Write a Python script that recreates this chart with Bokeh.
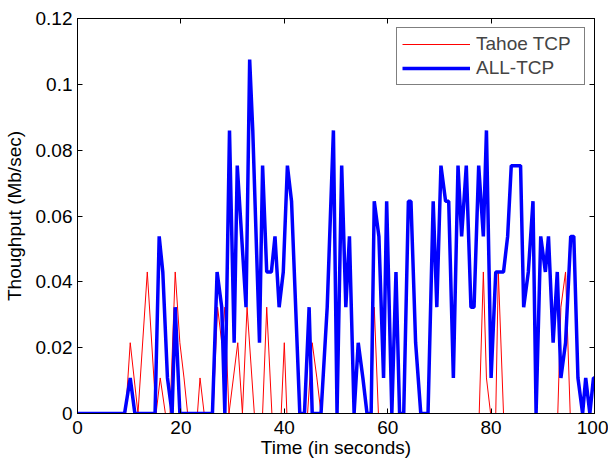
from bokeh.plotting import figure
from bokeh.models import Range1d, LinearAxis, FixedTicker, Legend, LegendItem
from bokeh.embed import file_html
from bokeh.resources import INLINE

# ---- data ----
tahoe_t = [0, 9.3, 10.2, 11.7, 13.5, 15.2, 16.0, 17.0, 17.9, 18.9, 19.8, 20.6, 21.3,
           23.2, 23.7, 24.5, 26.2, 27.1, 27.9, 28.5, 29.3, 31.0, 31.9, 32.8, 34.2,
           35.8, 36.6, 37.6, 39.4, 40.0, 40.5, 44.5, 45.4, 46.3, 47.1, 56.8, 57.4,
           58.2, 77.7, 78.5, 79.1, 79.9, 80.9, 81.4, 82.4, 92.9, 93.5, 94.4, 95.3, 100]
tahoe_v = [0, 0, 0.0215, 0, 0.043, 0, 0.0108, 0, 0, 0.043, 0.0215, 0.0108, 0,
           0, 0.0108, 0, 0, 0.0323, 0.0215, 0.0323, 0, 0.0215, 0, 0.0323, 0,
           0, 0.0323, 0, 0, 0.0215, 0, 0, 0.0215, 0.0108, 0, 0, 0.0323,
           0, 0, 0.043, 0.0108, 0, 0, 0.043, 0, 0, 0.0323, 0.043, 0, 0]

all_t = [0, 9.1, 10.2, 11.1, 15.0, 15.8, 16.5, 17.4, 18.3, 18.9, 19.8, 26.1, 27.0,
         27.9, 28.5, 29.4, 30.3, 30.9, 32.6, 33.3, 33.9, 35.2, 35.8, 36.6, 37.5,
         38.2, 39.0, 39.8, 40.6, 41.4, 43.0, 43.9, 44.8, 45.4, 47.1, 48.3, 49.5,
         50.2, 51.1, 51.9, 52.6, 53.5, 54.3, 55.2, 56.0, 56.8, 57.4, 58.3, 59.2,
         59.8, 60.8, 61.6, 62.3, 63.1, 64.0, 64.5, 65.4, 66.4, 67.8, 68.8, 69.5,
         70.3, 71.2, 71.8, 72.7, 73.6, 74.3, 75.2, 76.1, 76.7, 77.6, 78.5, 79.1,
         80.0, 80.9, 82.4, 83.2, 83.9, 85.7, 86.3, 87.2, 88.1, 88.7, 89.6, 90.5,
         91.1, 92.0, 92.8, 93.5, 94.4, 95.4, 96.0, 96.8, 97.7, 98.3, 99.1, 99.8, 100]
all_v = [0, 0, 0.0108, 0, 0, 0.0538, 0.043, 0.0108, 0, 0.0323, 0, 0, 0.043,
         0.0323, 0, 0.086, 0.0215, 0.0753, 0.0323, 0.1075, 0.086, 0.0215, 0.0753, 0.043, 0.043,
         0.0538, 0.0323, 0.043, 0.0753, 0.0645, 0, 0, 0.0323, 0, 0, 0.0323, 0.086,
         0, 0.0753, 0.0323, 0.0538, 0, 0.0215, 0.0108, 0, 0, 0.0645, 0.0538, 0.0108,
         0.0645, 0, 0.043, 0, 0, 0.0645, 0.0645, 0.0215, 0, 0, 0.0645, 0.0323,
         0.0753, 0.0645, 0.0645, 0.0108, 0.0753, 0.0538, 0.0753, 0.0323, 0.0323, 0.0753, 0.0538, 0.086,
         0.0108, 0.043, 0.043, 0.0538, 0.0753, 0.0753, 0.0323, 0.043, 0.0645, 0, 0.0538, 0.043,
         0.0538, 0.0215, 0.043, 0.0108, 0.0215, 0.0538, 0.0538, 0.0108, 0, 0.0108, 0, 0.0108, 0.0108]

x_ticks = [0, 20, 40, 60, 80, 100]
y_ticks = [0, 0.02, 0.04, 0.06, 0.08, 0.1, 0.12]
y_tick_labels = ["0", "0.02", "0.04", "0.06", "0.08", "0.1", "0.12"]

series_names = ["Tahoe TCP", "ALL-TCP"]

FONT = "Liberation Sans"

p = figure(width=608, height=461, output_backend="svg", toolbar_location=None,
           x_range=Range1d(0, 100), y_range=Range1d(0, 0.12),
           min_border_left=77, min_border_right=14, min_border_top=18,
           min_border_bottom=48)
p.xgrid.visible = False
p.ygrid.visible = False
p.outline_line_color = "black"
p.outline_line_width = 1
p.background_fill_color = "white"
p.border_fill_color = "white"

r_tahoe = p.line(tahoe_t, tahoe_v, line_color="#ff0000", line_width=1)
r_all = p.line(all_t, all_v, line_color="#0000ff", line_width=3.5)

def style_axis(ax, show_labels):
    ax.axis_line_color = "black"
    ax.major_tick_line_color = "black"
    ax.major_tick_in = 5
    ax.major_tick_out = 0
    ax.minor_tick_line_color = None
    if show_labels:
        ax.major_label_text_font = FONT
        ax.major_label_text_font_size = "19px"
        ax.major_label_text_color = "black"
        ax.axis_label_text_font = FONT
        ax.axis_label_text_font_size = "19px"
        ax.axis_label_text_font_style = "normal"
        ax.axis_label_text_color = "black"
    else:
        ax.major_label_text_font_size = "1px"
        ax.major_label_text_color = None
        ax.major_label_standoff = 0

xa = p.xaxis[0]
xa.ticker = FixedTicker(ticks=x_ticks)
xa.axis_label = "Time (in seconds)"
style_axis(xa, True)
xa.major_label_standoff = 7
xa.axis_label_standoff = 0

ya = p.yaxis[0]
ya.ticker = FixedTicker(ticks=y_ticks)
ya.major_label_overrides = {t: lab for t, lab in zip(y_ticks, y_tick_labels)}
ya.axis_label = "Thoughput (Mb/sec)"
style_axis(ya, True)
ya.major_label_standoff = 5
ya.axis_label_standoff = 8

top = LinearAxis(ticker=FixedTicker(ticks=x_ticks))
style_axis(top, False)
p.add_layout(top, "above")
right = LinearAxis(ticker=FixedTicker(ticks=y_ticks))
style_axis(right, False)
p.add_layout(right, "right")

legend = Legend(items=[LegendItem(label=series_names[0], renderers=[r_tahoe]),
                       LegendItem(label=series_names[1], renderers=[r_all])],
                location="top_right")
legend.margin = 9
legend.padding = 5
legend.spacing = 2
legend.glyph_width = 68
legend.glyph_height = 20
legend.label_standoff = 6
legend.label_width = 103
legend.label_height = 20
legend.label_text_font = FONT
legend.label_text_font_size = "19px"
legend.border_line_color = "black"
legend.border_line_width = 1
legend.background_fill_alpha = 1.0
p.add_layout(legend, "center")

open("out.html", "w").write(file_html(p, INLINE))
